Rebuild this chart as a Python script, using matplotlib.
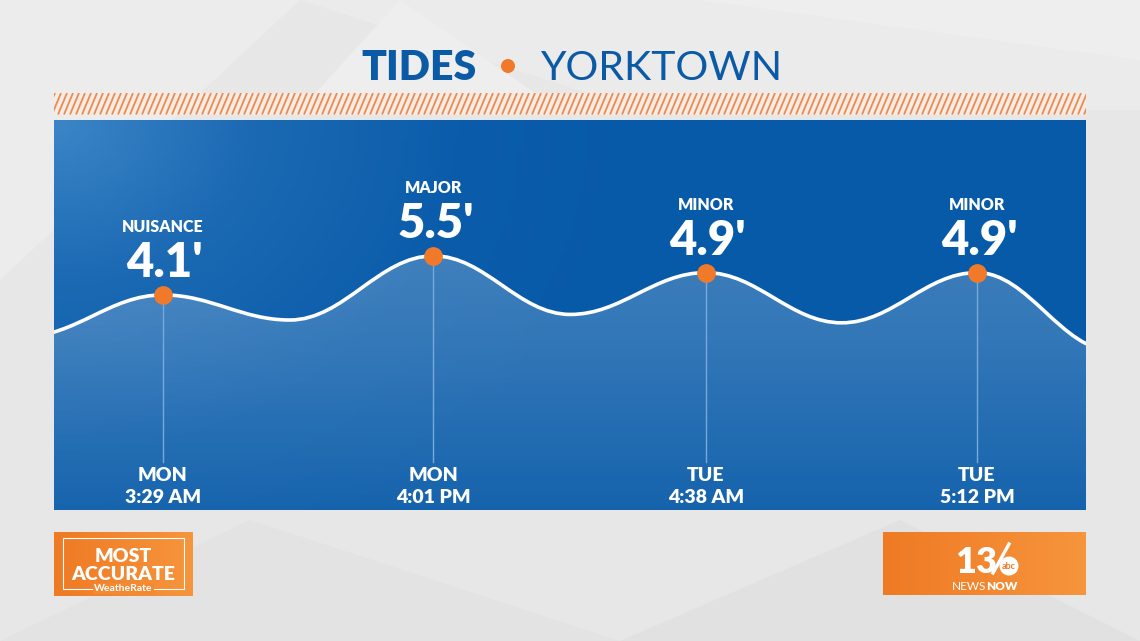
import numpy as np
import matplotlib
matplotlib.use("Agg")
import matplotlib.pyplot as plt
from matplotlib.path import Path
from matplotlib.patches import PathPatch, Rectangle, Polygon, Circle
from matplotlib.collections import LineCollection
from matplotlib.colors import LinearSegmentedColormap

# ---------------- data ----------------
title_left = "TIDES"
title_right = "YORKTOWN"

# tide curve extrema (hours from Monday 00:00, height in feet)
tide_hours = [-3.0, 3.48, 9.36, 16.02, 22.36, 28.63, 34.93, 41.20, 47.5]
tide_heights = [2.6, 4.1, 3.2, 5.5, 3.4, 4.9, 3.1, 4.9, 2.1]

# high tides shown with labels
peak_hours = [3.48, 16.02, 28.63, 41.20]
peak_heights = [4.1, 5.5, 4.9, 4.9]
peak_levels = ["NUISANCE", "MAJOR", "MINOR", "MINOR"]
peak_days = ["MON", "MON", "TUE", "TUE"]
peak_times = ["3:29 AM", "4:01 PM", "4:38 AM", "5:12 PM"]

x_range = (-1.56, 46.25)
y_range = (-3.61, 10.37)
stem_bottom = -1.89

# ---------------- style ----------------
W, H = 1140, 641
FONT = "Lato"
BLUE = "#0b5aa6"
ORANGE = "#f07a2a"

fig = plt.figure(figsize=(W / 100, H / 100), dpi=100)
fig.patch.set_facecolor("#e7e7e7")

# decoration axes in pixel coordinates
deco = fig.add_axes([0, 0, 1, 1])
deco.set_xlim(0, W)
deco.set_ylim(H, 0)
deco.axis("off")

# subtle background facets
facets = [
    ([(0, 0), (300, 0), (0, 280)], "#ececec"),
    ([(300, 0), (1140, 0), (1140, 110), (640, 110)], "#ebebeb"),
    ([(300, 110), (400, 0), (560, 110)], "#eeeeee"),
    ([(0, 641), (250, 520), (620, 641)], "#e3e3e3"),
    ([(620, 641), (900, 520), (1140, 641)], "#e1e1e1"),
    ([(700, 0), (1140, 0), (1140, 60)], "#eeeeee"),
]
for pts, c in facets:
    deco.add_patch(Polygon(pts, closed=True, facecolor=c, edgecolor="none", zorder=0))

# title
deco.text(477, 80, title_left, ha="right", va="baseline", fontsize=29.5,
          fontweight="heavy", color=BLUE, family=FONT, zorder=5)
deco.add_patch(Circle((508, 66), 7, facecolor=ORANGE, edgecolor="none", zorder=5))
deco.text(540, 80, title_right, ha="left", va="baseline", fontsize=29.5,
          fontweight="normal", color=BLUE, family=FONT, zorder=5)

# hatched band
band = Rectangle((54, 93), 1032, 21.5, facecolor="#f3ece7", edgecolor="none", zorder=2)
deco.add_patch(band)
segs = []
for x0 in np.arange(40, 1100, 6.0):
    segs.append([(x0, 114.5), (x0 + 9, 93)])
lc = LineCollection(segs, colors="#ee8a4c", linewidths=1.3, zorder=3)
deco.add_collection(lc)
lc.set_clip_path(band)

# logos
def orange_box(x0, y0, w, h):
    grad = np.linspace(0, 1, 64).reshape(1, -1)
    cmap = LinearSegmentedColormap.from_list("o", ["#ef7a24", "#f6953c"])
    deco.imshow(grad, extent=(x0, x0 + w, y0 + h, y0), cmap=cmap,
                aspect="auto", zorder=4)

orange_box(54, 532, 139, 64)
deco.add_patch(Rectangle((63, 538), 121, 51, facecolor="none", edgecolor="white",
                         linewidth=0.8, zorder=5))
deco.text(123.5, 562, "MOST", ha="center", va="baseline", fontsize=14,
          fontweight="heavy", color="white", family=FONT, zorder=6)
deco.text(123.5, 580, "ACCURATE", ha="center", va="baseline", fontsize=14,
          fontweight="heavy", color="white", family=FONT, zorder=6)
deco.text(123.5, 591, "WeatheRate", ha="center", va="baseline", fontsize=7.5,
          fontweight="bold", color="white", family=FONT, zorder=7,
          bbox=dict(facecolor="#f28a33", edgecolor="none", pad=0.6))

orange_box(883, 532, 203, 63)
deco.text(976, 573, "13", ha="center", va="baseline", fontsize=26,
          fontweight="heavy", color="white", family=FONT, zorder=6)
deco.plot([993, 1009], [573, 544], color="white", lw=2.4, zorder=6)
deco.add_patch(Circle((1009, 566), 9.5, facecolor="white", edgecolor="none", zorder=6))
deco.text(1009, 569, "abc", ha="center", va="baseline", fontsize=6.5,
          fontweight="bold", color="#f07a2a", family=FONT, zorder=7)
deco.text(986, 590, "NEWS", ha="right", va="baseline", fontsize=8.5,
          fontweight="normal", color="white", family=FONT, zorder=6)
deco.text(986, 590, "NOW", ha="left", va="baseline", fontsize=8.5,
          fontweight="heavy", color="white", family=FONT, zorder=6)

# ---------------- main panel ----------------
ax = fig.add_axes([54 / W, (H - 510) / H, 1032 / W, 390 / H])
ax.set_xlim(*x_range)
ax.set_ylim(*y_range)
ax.axis("off")

# gradient background: lighter glow top-left
gx, gy = np.meshgrid(np.linspace(0, 1, 240), np.linspace(1, 0, 120))
d = np.sqrt((gx * 2.4) ** 2 + ((1 - gy) * 1.1) ** 2)
t = np.clip(d / 1.4, 0, 1)
cmap_bg = LinearSegmentedColormap.from_list("b", ["#3b85c7", "#1b69b3", "#0b5dab", "#075aa8"])
ax.imshow(cmap_bg(t), extent=(0, 1, 0, 1), transform=ax.transAxes,
          aspect="auto", zorder=0)

# smooth tide path (cubic segments with flat tangents at extrema)
verts = [(tide_hours[0], tide_heights[0])]
codes = [Path.MOVETO]
for i in range(len(tide_hours) - 1):
    x0, y0 = tide_hours[i], tide_heights[i]
    x1, y1 = tide_hours[i + 1], tide_heights[i + 1]
    dx = x1 - x0
    verts += [(x0 + dx * 0.38, y0), (x1 - dx * 0.38, y1), (x1, y1)]
    codes += [Path.CURVE4] * 3
line_path = Path(verts, codes)

fill_verts = verts + [(tide_hours[-1], y_range[0] - 1), (tide_hours[0], y_range[0] - 1),
                      (tide_hours[0], tide_heights[0])]
fill_codes = codes + [Path.LINETO, Path.LINETO, Path.CLOSEPOLY]
fill_patch = PathPatch(Path(fill_verts, fill_codes), facecolor="none",
                       edgecolor="none", transform=ax.transData)
ax.add_patch(fill_patch)
# white overlay fading downward, clipped to area under the curve
ys = np.linspace(y_range[1], y_range[0], 200)
alpha = np.interp(ys, [y_range[0], 2.0, 5.5], [0.06, 0.17, 0.22])
overlay = np.ones((200, 2, 4))
overlay[:, :, 3] = alpha[:, None]
im = ax.imshow(overlay, extent=(x_range[0], x_range[1], y_range[0], y_range[1]),
               aspect="auto", zorder=1)
im.set_clip_path(fill_patch)

ax.add_patch(PathPatch(line_path, facecolor="none", edgecolor="white", lw=2.6,
                       zorder=3, capstyle="round"))

for h, v, lev, d_, tm in zip(peak_hours, peak_heights, peak_levels, peak_days, peak_times):
    ax.plot([h, h], [stem_bottom, v], color="#78a9dc", lw=1.0, zorder=2)
    ax.plot(h, v, "o", ms=13.5, color=ORANGE, mec="none", zorder=4)
    ax.annotate(f"{v:.1f}'", (h, v), xytext=(2, 18), textcoords="offset pixels",
                ha="center", va="baseline", fontsize=34, fontweight="heavy",
                color="white", family=FONT, zorder=5)
    ax.annotate(lev, (h, v), xytext=(0, 63), textcoords="offset pixels",
                ha="center", va="baseline", fontsize=11.5, fontweight="heavy",
                color="white", family=FONT, zorder=5)
    ax.text(h, (510 - 481) / 390, d_, transform=ax.get_xaxis_transform(),
            ha="center", va="baseline", fontsize=14, fontweight="heavy",
            color="white", family=FONT, zorder=5)
    ax.text(h, (510 - 503) / 390, tm, transform=ax.get_xaxis_transform(),
            ha="center", va="baseline", fontsize=14, fontweight="heavy",
            color="white", family=FONT, zorder=5)

fig.savefig("out.png", dpi=100, facecolor=fig.get_facecolor())
